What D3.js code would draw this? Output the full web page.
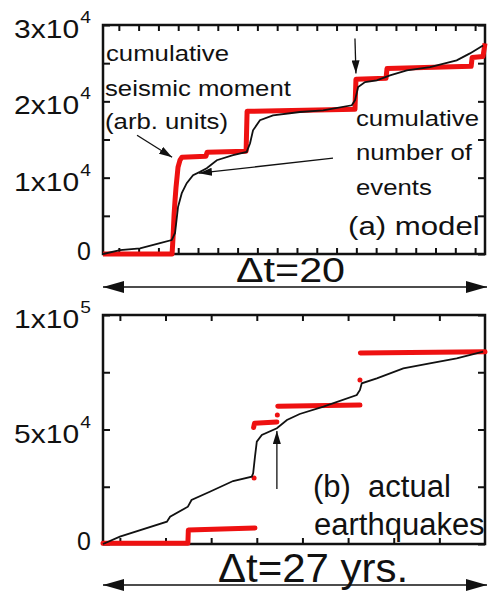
<!DOCTYPE html>
<html>
<head>
<meta charset="utf-8">
<script src="https://cdn.jsdelivr.net/npm/d3@7"></script>
<style>
  body { margin: 0; background: #fff; }
  text { font-family: "Liberation Sans", Arial, Helvetica, sans-serif; fill: #111; white-space: pre; }
</style>
</head>
<body>
<svg class="fig" width="491" height="593"></svg>
<script>
// panel (a) model : [time, cumulative value]
var modelEvents = [[-0.8,0],[0.06,520],[1.07,750],[2.08,1440],[2.67,1830],[2.84,2750],[2.99,6140],
  [3.18,7970],[3.43,9280],[3.75,10330],[4.10,10760],[4.44,11240],[4.95,12290],[5.77,12940],
  [6.46,13370],[6.63,14510],[6.78,16210],[7.13,17520],[7.79,18170],[9.15,18600],[10.32,18820],
  [11.77,19480],[11.93,20130],[12.09,21870],[12.44,22520],[13.03,22750],[13.70,23400],
  [14.55,24050],[15.72,24480],[17.07,25360],[17.74,26280],[18.40,27320]];
var modelMoment = [[-0.8,0],[2.69,0],[2.74,2220],[2.79,5100],[2.84,7060],[2.89,8760],[2.99,11370],
  [3.09,12290],[3.19,12680],[4.40,12810],[4.46,13330],[6.43,13460],[6.48,18690],[11.93,18950],
  [11.98,22880],[13.50,23010],[13.55,24310],[17.80,24580],[17.85,25750],[18.40,25880],[18.50,27580]];
var topYTicks = [0, 10000, 20000, 30000];
var topYMinor = [5000, 15000, 25000];
var topXTicks = d3.range(0, 19);

// panel (b) actual earthquakes
var quakeEvents = [[-0.37,0],[0.0,3190],[1.03,9740],[1.10,11920],[1.49,16290],[1.57,19210],
  [1.97,22840],[2.48,27500],[2.89,29390],[2.92,30870],[2.96,38120],[3.00,44680],[3.11,47600],
  [3.44,50530],[3.66,54150],[3.94,56770],[4.46,59960],[5.19,65070],[5.26,67250],[5.30,70180],
  [5.63,72360],[6.21,76730],[6.79,78910],[7.38,81100],[7.96,83980]];
var quakeMomentSteps = [
  [[-0.37,300],[1.49,300],[1.50,6100],[2.96,7000]],
  [[2.93,50900],[2.95,52700],[3.44,53300]],
  [[3.46,60200],[5.26,60700]],
  [[5.27,83400],[8.0,83900]]
];
var quakeMomentDots = [[2.94,28800],[3.45,56300],[5.26,71600]];
var bottomYTicks = [0, 50000, 100000];
var bottomYMinor = [25000, 75000];
var bottomXTicks = d3.range(0, 8);

var svg = d3.select(".fig");
var left = 103, right = 485;

var defs = svg.append("defs");
function head(id, len, wid) {
  defs.append("marker").attr("id", id)
    .attr("viewBox", "0 0 " + len + " " + wid)
    .attr("refX", len).attr("refY", wid / 2)
    .attr("markerUnits", "userSpaceOnUse")
    .attr("markerWidth", len).attr("markerHeight", wid)
    .attr("orient", "auto-start-reverse")
    .append("path").attr("d", "M0,0L" + len + "," + (wid / 2) + "L0," + wid + "Z").attr("fill", "#111");
}
head("ah", 13, 8);
head("big", 21, 12);

function supLabel(g, v, x, y) {
  var t = g.append("text").attr("text-anchor", "end");
  if (v === 0) {
    t.attr("transform", "translate(" + x + "," + (y + 6) + ")").style("font-size", "25px").text("0");
    return;
  }
  var e = Math.floor(Math.log10(v)), m = Math.round(v / Math.pow(10, e));
  t.attr("transform", "translate(" + x + "," + (y + 13) + ") scale(1.2,1)").style("font-size", "25px");
  t.append("tspan").text(m + "x10");
  t.append("tspan").attr("dy", -15).attr("dx", 1).style("font-size", "16px").text(e);
}

function panel(top, bottom, xs, ys, xTicks, yMajor, yMinor) {
  var g = svg.append("g");
  var yAll = yMajor.concat(yMinor);
  g.append("g").attr("transform", "translate(0," + top + ")")
    .call(d3.axisTop(xs).tickValues(xTicks).tickSize(-6).tickSizeOuter(0).tickFormat(""));
  g.append("g").attr("transform", "translate(0," + bottom + ")")
    .call(d3.axisBottom(xs).tickValues(xTicks).tickSize(-6).tickSizeOuter(0).tickFormat(""));
  g.append("g").attr("transform", "translate(" + left + ",0)")
    .call(d3.axisLeft(ys).tickValues(yAll).tickSize(-7).tickSizeOuter(0).tickFormat(""));
  g.append("g").attr("transform", "translate(" + right + ",0)")
    .call(d3.axisRight(ys).tickValues(yAll).tickSize(-7).tickSizeOuter(0).tickFormat(""));
  g.selectAll(".domain").remove();
  g.selectAll(".tick line").attr("stroke", "#111").attr("stroke-width", 2);
  g.append("rect").attr("x", left).attr("y", top).attr("width", right - left).attr("height", bottom - top)
    .attr("fill", "none").attr("stroke", "#111").attr("stroke-width", 2.5);
  yMajor.forEach(function(v) { supLabel(g, v, 91, ys(v)); });
  return g;
}

function txt(str, x, y, size, sx) {
  svg.append("text").attr("transform", "translate(" + x + "," + y + ") scale(" + sx + ",1)")
    .style("font-size", size + "px").text(str);
}

function arrow(x1, y1, x2, y2, w, m, both) {
  var l = svg.append("line").attr("x1", x1).attr("y1", y1).attr("x2", x2).attr("y2", y2)
    .attr("stroke", "#111").attr("stroke-width", w).attr("marker-end", "url(#" + m + ")");
  if (both) l.attr("marker-start", "url(#" + m + ")");
}

// ---- panel (a)
var xA = d3.scaleLinear().domain([-0.8, 18.5]).range([left, right]);
var yA = d3.scaleLinear().domain([0, 30000]).range([254, 25]);
panel(25, 254, xA, yA, topXTicks, topYTicks, topYMinor);

var lineA = d3.line().x(function(d) { return xA(d[0]); }).y(function(d) { return yA(d[1]); });
svg.append("path").datum(modelMoment).attr("d", lineA)
  .attr("fill", "none").attr("stroke", "#ee1111").attr("stroke-width", 5).attr("stroke-linejoin", "round");
svg.append("path").datum(modelEvents).attr("d", lineA)
  .attr("fill", "none").attr("stroke", "#111").attr("stroke-width", 1.8);

txt("cumulative", 106, 61, 22, 1.17);
txt("seismic moment", 105, 96, 22, 1.17);
txt("(arb. units)", 105, 129, 22, 1.17);
txt("cumulative", 356, 126, 22, 1.17);
txt("number of", 356, 160, 22, 1.17);
txt("events", 356, 195, 22, 1.17);
txt("(a) model", 348, 235, 26, 1.2);

arrow(xA(0.92), yA(15560), xA(2.69), yA(12680), 1.3, "ah");
arrow(xA(10.82), yA(12550), xA(4.05), yA(10590), 1.3, "ah");
arrow(xA(11.93), yA(28240), xA(11.98), yA(23660), 1.3, "ah");

txt("\u0394t=20", 236, 282, 35, 1.18);
arrow(left, 287, right + 2, 287, 1.5, "big", true);

// ---- panel (b)
var xB = d3.scaleLinear().domain([-0.37, 8]).range([left, right]);
var yB = d3.scaleLinear().domain([0, 100000]).range([544, 315]);
panel(315, 544, xB, yB, bottomXTicks, bottomYTicks, bottomYMinor);

var lineB = d3.line().x(function(d) { return xB(d[0]); }).y(function(d) { return yB(d[1]); });
svg.selectAll(".qstep").data(quakeMomentSteps).enter().append("path").attr("class", "qstep")
  .attr("d", lineB).attr("fill", "none").attr("stroke", "#ee1111").attr("stroke-width", 5)
  .attr("stroke-linejoin", "round").attr("stroke-linecap", "round");
svg.selectAll(".qdot").data(quakeMomentDots).enter().append("circle").attr("class", "qdot")
  .attr("cx", function(d) { return xB(d[0]); }).attr("cy", function(d) { return yB(d[1]); })
  .attr("r", 2.5).attr("fill", "#ee1111");
svg.append("path").datum(quakeEvents).attr("d", lineB)
  .attr("fill", "none").attr("stroke", "#111").attr("stroke-width", 1.8);

arrow(xB(3.44), yB(24020), xB(3.44), yB(49350), 1.3, "ah");

txt("(b)  actual", 313, 497, 31, 1);
txt("earthquakes", 314, 535, 31, 1);

txt("\u0394t=27 yrs.", 218, 582, 40, 1.05);
arrow(left, 585, right + 2, 585, 1.5, "big", true);
</script>
</body>
</html>
